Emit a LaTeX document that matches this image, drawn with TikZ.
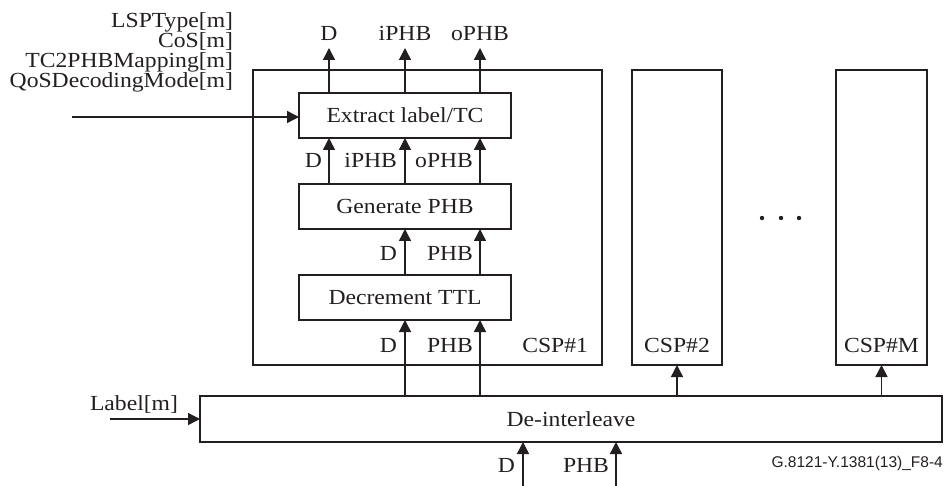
\documentclass[tikz,border=0pt]{standalone}
\usepackage{fontspec}
\setmainfont{Liberation Serif}[FakeStretch=1.1]
\newfontfamily\capfont{Liberation Sans}
\usetikzlibrary{arrows.meta}
\definecolor{ink}{RGB}{35,31,32}
\tikzset{
  blk/.style={draw=ink, line width=1.4pt, inner sep=0pt, outer sep=0pt, font=\fontsize{21.5}{26}\selectfont, text=ink},
  lbl/.style={inner sep=0pt, outer sep=0pt, font=\fontsize{21.5}{26}\selectfont, text=ink},
  arr/.style={draw=ink, line width=1.4pt, -{Triangle[length=12pt,width=12pt]}},
  dotmark/.style={fill=ink, draw=none}
}
\begin{document}
\begin{tikzpicture}[x=1pt,y=-1pt]
\useasboundingbox (0,0) rectangle (944,486);
% boxes
\node[blk, minimum width=349pt, minimum height=295pt] (csp1) at (427.5,217.5) {};
\node[blk, minimum width=90pt, minimum height=295pt] (csp2) at (677,217.5) {};
\node[blk, minimum width=91pt, minimum height=295pt] (cspM) at (881.5,217.5) {};
\node[blk, minimum width=212pt, minimum height=45pt] (extract) at (405,115.5) {Extract label/TC};
\node[blk, minimum width=212pt, minimum height=45pt] (generate) at (405,206.5) {Generate PHB};
\node[blk, minimum width=212pt, minimum height=45pt] (decr) at (405,297.5) {Decrement TTL};
\node[blk, minimum width=742pt, minimum height=46pt] (deint) at (571,419) {De-interleave};
% column coordinates
\coordinate (xa) at (329,0);
\coordinate (xb) at (405,0);
\coordinate (xc) at (480,0);
\coordinate (oD) at (329,48);
\coordinate (oI) at (405,48);
\coordinate (oO) at (480,48);
\coordinate (inQ) at (72,117);
\coordinate (inL) at (110,419);
\coordinate (inD) at (523,486);
\coordinate (inP) at (616,486);
% arrows
\draw[arr] (extract.north -| xa) -- (oD);
\draw[arr] (extract.north -| xb) -- (oI);
\draw[arr] (extract.north -| xc) -- (oO);
\draw[arr] (generate.north -| xa) -- (extract.south -| xa);
\draw[arr] (generate.north -| xb) -- (extract.south -| xb);
\draw[arr] (generate.north -| xc) -- (extract.south -| xc);
\draw[arr] (decr.north -| xb) -- (generate.south -| xb);
\draw[arr] (decr.north -| xc) -- (generate.south -| xc);
\draw[arr] (deint.north -| xb) -- (decr.south -| xb);
\draw[arr] (deint.north -| xc) -- (decr.south -| xc);
\draw[arr] (deint.north -| csp2) -- (csp2.south);
\draw[arr] (deint.north -| cspM) -- (cspM.south);
\draw[arr] (inD) -- (deint.south -| inD);
\draw[arr] (inP) -- (deint.south -| inP);
\draw[arr] (inQ) -- (inQ -| extract.west);
\draw[arr] (inL) -- (deint.west);
% labels
\node[lbl, anchor=base] (tD) at (329,41) {D};
\node[lbl, anchor=base] (tI) at (405,41) {iPHB};
\node[lbl, anchor=base] (tO) at (480,41) {oPHB};
\node[lbl, anchor=base east] (m1) at (322,168) {D};
\node[lbl, anchor=base east] (m2) at (397,168) {iPHB};
\node[lbl, anchor=base east] (m3) at (473,168) {oPHB};
\node[lbl, anchor=base east] (n1) at (397,261) {D};
\node[lbl, anchor=base east] (n2) at (473,261) {PHB};
\node[lbl, anchor=base east] (p1) at (397,352) {D};
\node[lbl, anchor=base east] (p2) at (473,352) {PHB};
\node[lbl, anchor=base east] (c1) at (588,352) {CSP\#1};
\node[lbl, anchor=base] (c2) at (677,352) {CSP\#2};
\node[lbl, anchor=base] (cM) at (881.5,352) {CSP\#M};
\node[lbl, anchor=base east] (b1) at (515,472) {D};
\node[lbl, anchor=base east] (b2) at (609,472) {PHB};
\node[lbl, anchor=base east] (l1) at (233,28) {LSPType[m]};
\node[lbl, anchor=base east] (l2) at (233,48) {CoS[m]};
\node[lbl, anchor=base east] (l3) at (233,68) {TC2PHBMapping[m]};
\node[lbl, anchor=base east] (l4) at (233,88) {QoSDecodingMode[m]};
\node[lbl, anchor=base west] (lab) at (90,410) {Label[m]};
\node[inner sep=0pt, anchor=base east, text=ink, font=\capfont\fontsize{15.5}{18}\selectfont] (cap) at (943,467) {G.8121-Y.1381(13)\_F8-4};
% ellipsis
\fill[dotmark] (762,218) circle (2.2);
\fill[dotmark] (781,218) circle (2.2);
\fill[dotmark] (799,218) circle (2.2);
\end{tikzpicture}
\end{document}
